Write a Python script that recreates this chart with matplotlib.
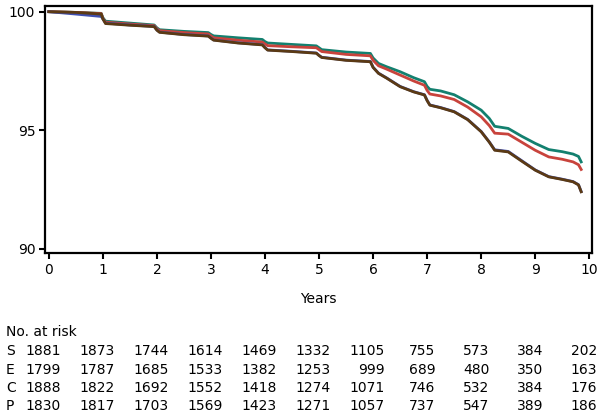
import matplotlib
matplotlib.use("Agg")
import matplotlib.pyplot as plt
from matplotlib.transforms import blended_transform_factory

# time points (years) at which the curves were read
t = [0, 0.5, 0.97, 1.0, 1.05, 1.5, 1.95, 2.0, 2.05, 2.5, 2.95, 3.0, 3.05, 3.5,
     3.95, 4.0, 4.05, 4.5, 4.95, 5.0, 5.05, 5.5, 5.95, 6.0, 6.1, 6.25, 6.5,
     6.75, 6.95, 7.0, 7.05, 7.25, 7.5, 7.75, 8.0, 8.15, 8.25, 8.5, 8.75, 9.0,
     9.25, 9.5, 9.7, 9.8, 9.85]

surv_S = [100, 99.97, 99.93, 99.75, 99.6, 99.52, 99.44, 99.32, 99.24, 99.17,
          99.12, 99.04, 98.98, 98.9, 98.83, 98.74, 98.68, 98.62, 98.56, 98.48,
          98.4, 98.3, 98.24, 98.05, 97.82, 97.68, 97.47, 97.22, 97.05, 96.85,
          96.73, 96.66, 96.5, 96.2, 95.85, 95.5, 95.17, 95.08, 94.75, 94.45,
          94.19, 94.1, 94.0, 93.9, 93.67]
surv_E = [100, 99.97, 99.92, 99.72, 99.56, 99.48, 99.41, 99.28, 99.2, 99.12,
          99.06, 98.98, 98.9, 98.8, 98.72, 98.64, 98.57, 98.52, 98.48, 98.4,
          98.32, 98.2, 98.14, 97.95, 97.72, 97.58, 97.33, 97.08, 96.9, 96.68,
          96.53, 96.45, 96.3, 95.98, 95.57, 95.2, 94.88, 94.84, 94.5, 94.16,
          93.88, 93.78, 93.67, 93.55, 93.35]
surv_C = [100, 99.9, 99.8, 99.7, 99.52, 99.44, 99.38, 99.23, 99.14, 99.04,
          98.98, 98.89, 98.81, 98.69, 98.61, 98.49, 98.39, 98.33, 98.26, 98.16,
          98.08, 97.96, 97.9, 97.66, 97.41, 97.21, 96.85, 96.63, 96.5, 96.26,
          96.07, 95.96, 95.79, 95.46, 94.95, 94.51, 94.18, 94.11, 93.72, 93.33,
          93.05, 92.94, 92.84, 92.71, 92.42]
surv_P = [100, 99.97, 99.9, 99.7, 99.5, 99.43, 99.37, 99.22, 99.13, 99.03,
          98.97, 98.88, 98.8, 98.68, 98.6, 98.48, 98.38, 98.32, 98.25, 98.15,
          98.07, 97.95, 97.89, 97.65, 97.4, 97.2, 96.84, 96.62, 96.49, 96.25,
          96.06, 95.95, 95.78, 95.45, 94.94, 94.5, 94.16, 94.09, 93.7, 93.32,
          93.04, 92.93, 92.83, 92.7, 92.41]

groups = ["S", "E", "C", "P"]
at_risk = {
    "S": [1881, 1873, 1744, 1614, 1469, 1332, 1105, 755, 573, 384, 202],
    "E": [1799, 1787, 1685, 1533, 1382, 1253, 999, 689, 480, 350, 163],
    "C": [1888, 1822, 1692, 1552, 1418, 1274, 1071, 746, 532, 384, 176],
    "P": [1830, 1817, 1703, 1569, 1423, 1271, 1057, 737, 547, 389, 186],
}
years = list(range(11))

fig = plt.figure(figsize=(6.04, 4.18), dpi=100)
ax = fig.add_axes([45 / 604, 1 - 253 / 418, 547 / 604, 247 / 418])

ax.plot(t, surv_S, color="#13806f", lw=2, zorder=3)
ax.plot(t, surv_E, color="#c8433c", lw=2, zorder=4)
ax.plot(t, surv_C, color="#3f4fb0", lw=2, zorder=5)
ax.plot(t, surv_P, color="#5b3a14", lw=2, zorder=6)

ax.set_xlim(-0.07, 10.05)
ax.set_ylim(89.83, 100.24)
ax.set_xticks(years)
ax.set_yticks([90, 95, 100])
for s in ax.spines.values():
    s.set_linewidth(1.6)
ax.tick_params(length=4, width=1.5, labelsize=10, pad=3, direction="out")

fig.text(318 / 604, 1 - 299 / 418, "Years", ha="center", va="center", fontsize=10)

# number at risk table under the plot
tr = blended_transform_factory(ax.transData, fig.transFigure)
fig.text(6 / 604, 1 - 332 / 418, "No. at risk", ha="left", va="center", fontsize=10)
row_y = [351, 369.5, 388, 406.5]
for g, yy in zip(groups, row_y):
    fig.text(6 / 604, 1 - yy / 418, g, ha="left", va="center", fontsize=10)
    for i, n in enumerate(at_risk[g]):
        off = 0.22 if i < 7 else 0.15
        ax.text(years[i] + off, 1 - yy / 418, str(n), ha="right", va="center",
                fontsize=10, transform=tr, clip_on=False)

fig.savefig("out.png", dpi=100)
